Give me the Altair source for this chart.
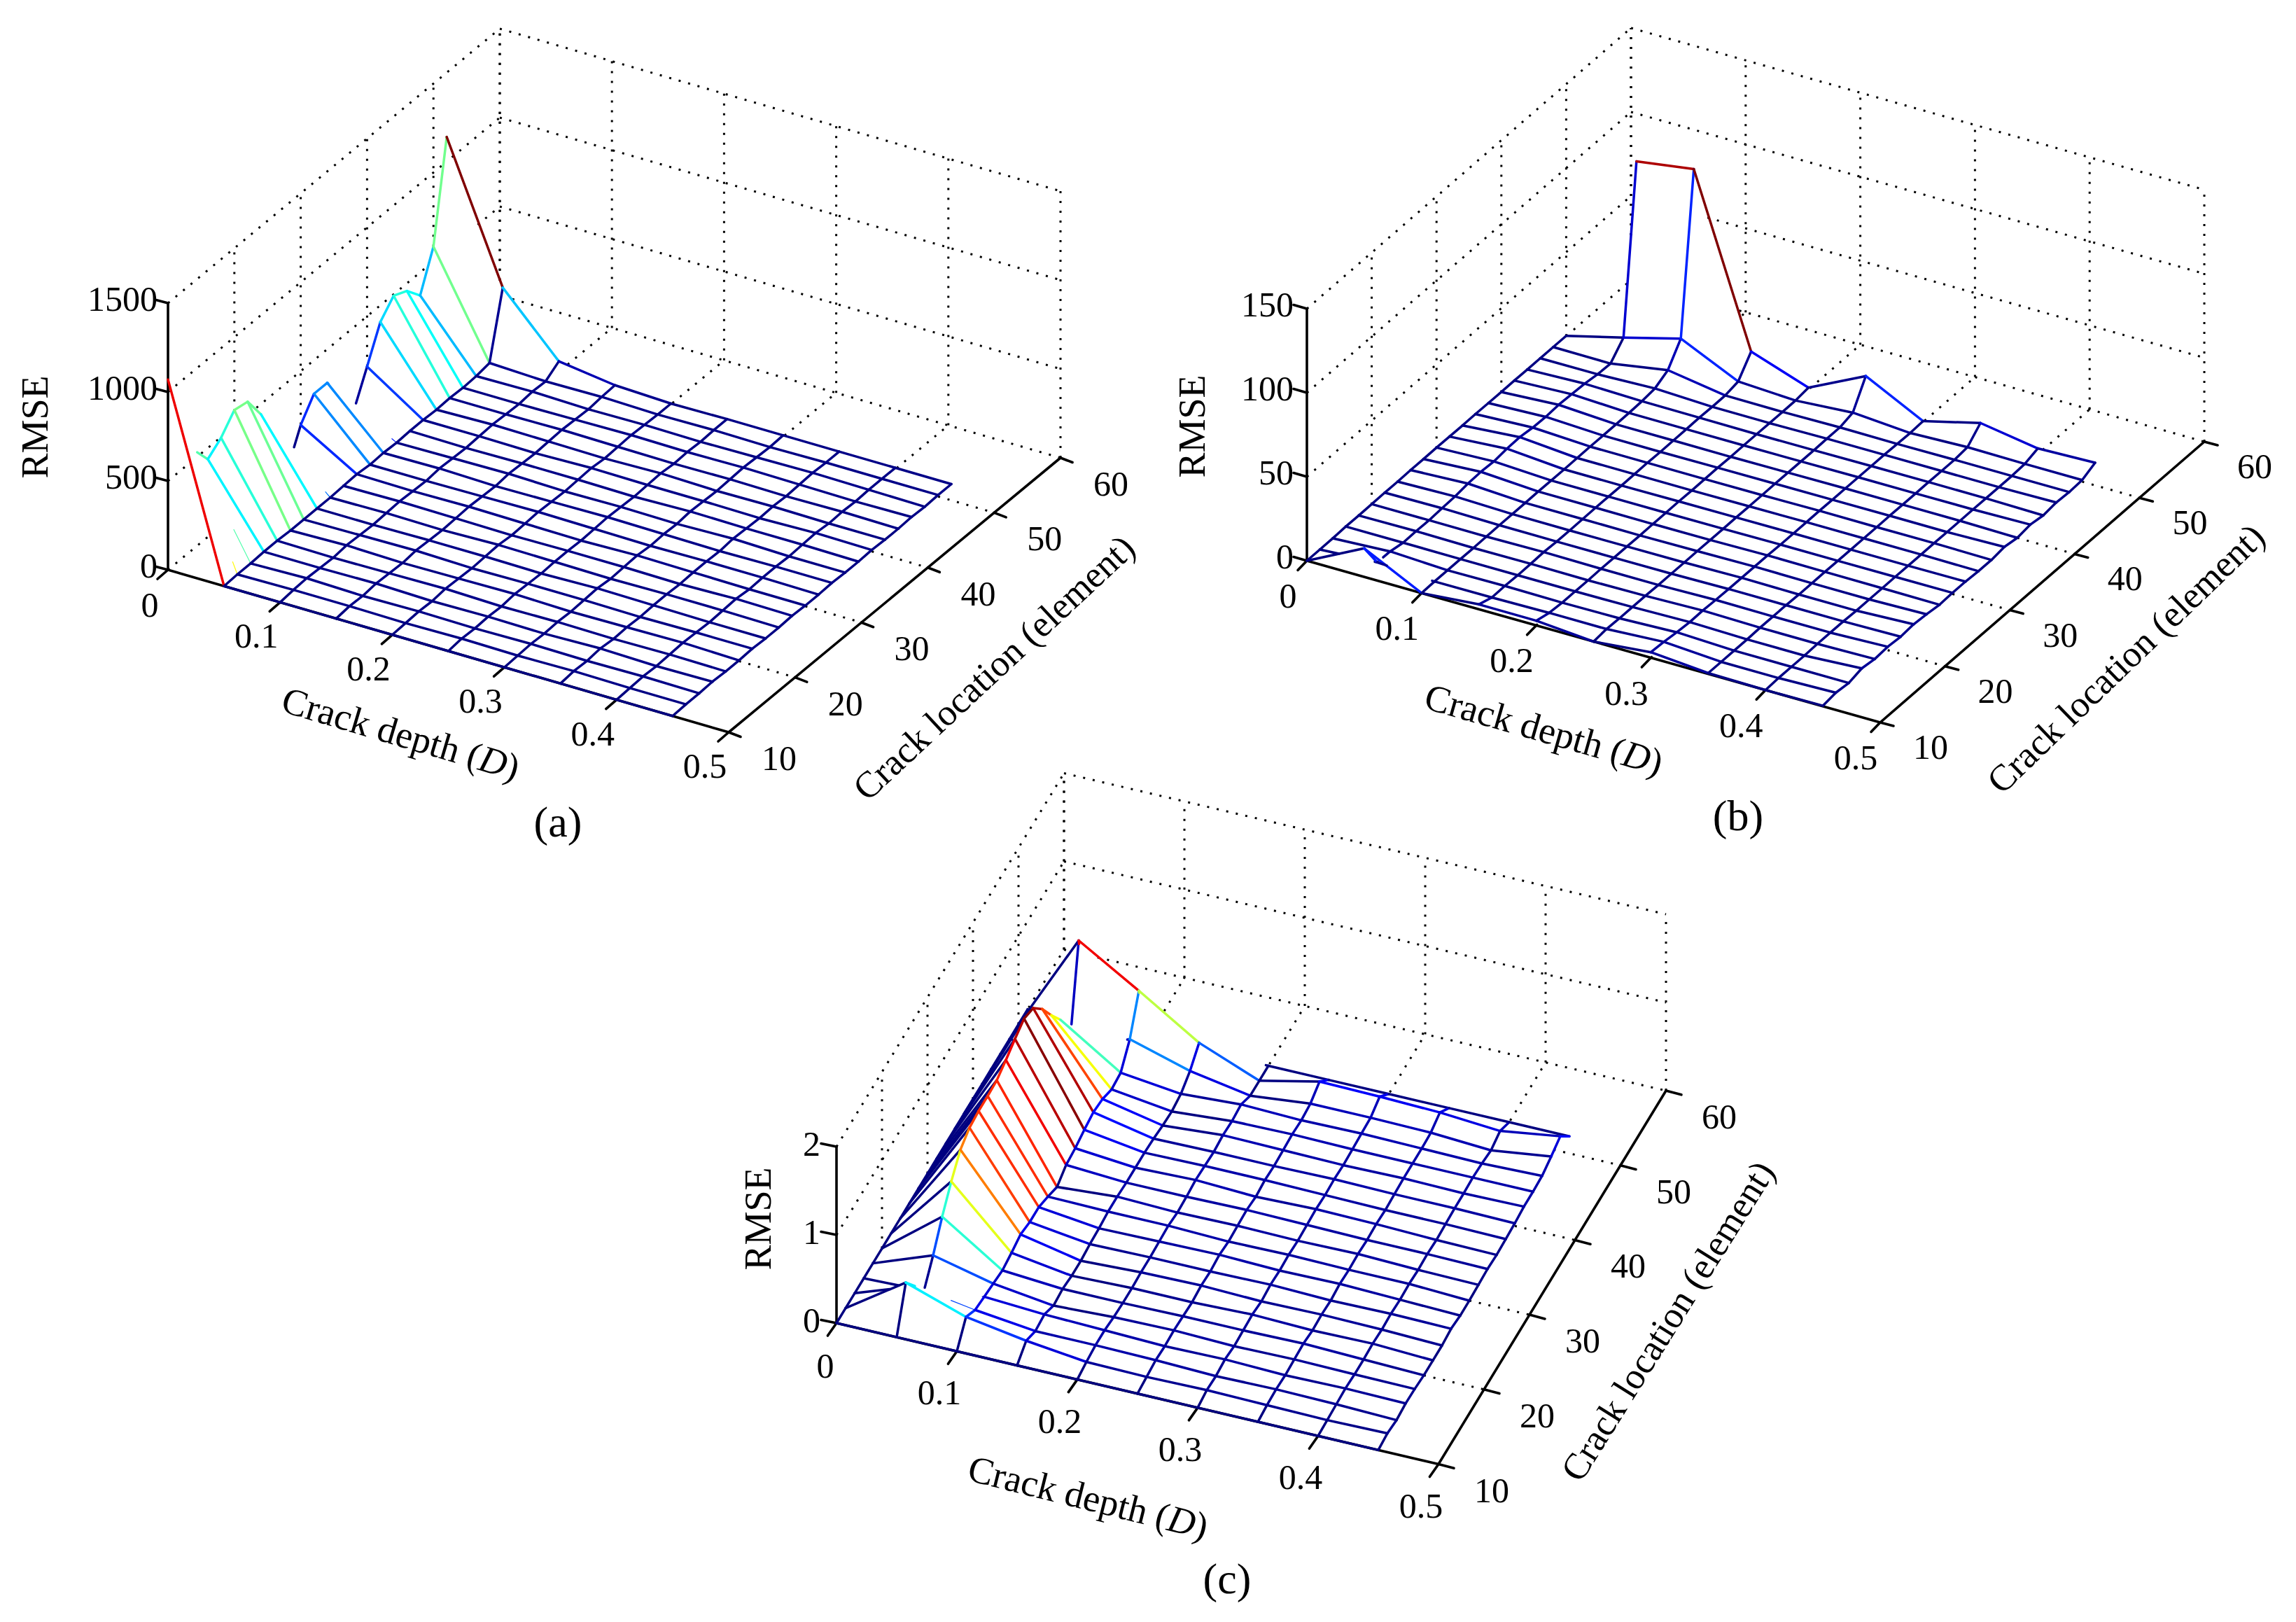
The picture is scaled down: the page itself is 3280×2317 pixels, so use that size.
import numpy as np
import pandas as pd
import altair as alt

DEPTHS = [0, .05, .1, .15, .2, .25, .3, .35, .4, .45]
LOCS = list(range(10, 54, 2))
DEPTH_TICKS = [0, .1, .2, .3, .4, .5]
LOC_TICKS = [10, 20, 30, 40, 50, 60]
Z_TICKS_A = [0, 500, 1000, 1500]
Z_TICKS_B = [0, 50, 100, 150]
Z_TICKS_C = [0, 1, 2]

# RMSE: one row per crack depth, one value per crack location
Z_A = [
 [1070,756,547,437,496,590,575,443,287,10,197,311,311,177,31,217,406,492,457,370,583,1138],
 [0,4,4,8,8,4,4,4,4,8,12,4,8,4,8,8,4,8,4,8,20,382],
 [0,8,12,8,4,12,8,4,8,12,8,4,12,8,4,8,12,8,4,12,8,59],
 [0,8,4,12,8,4,12,8,4,8,12,8,4,12,8,4,8,12,8,4,12,16],
 [0,4,8,4,12,8,4,8,12,4,8,12,8,4,8,12,4,8,12,8,4,4],
 [0,8,4,8,4,12,8,4,8,8,4,8,12,8,4,8,12,4,8,4,8,8],
 [0,4,8,4,8,4,8,12,4,8,12,4,8,4,12,8,4,8,12,8,4,8],
 [0,8,4,12,4,8,4,8,8,4,8,8,4,12,8,4,8,4,8,12,8,8],
 [0,4,8,4,8,12,8,4,8,12,4,8,8,4,8,12,4,8,4,8,8,8],
 [0,4,4,8,4,4,8,4,4,8,4,4,8,4,4,8,4,4,8,4,8,8],
]
Z_B = [
 [0,0,0,.3,.2,.3,.4,.3,.5,.4,.5,.4,.3,.4,.3,.2,.3,.2,.2,.2,.2,None],
 [17,2,1.8,.3,.5,.3,.8,1.1,2.1,2.4,1.9,2.8,3,2,1.7,2.2,1.8,1.4,.3,0,8.8,107],
 [0,.2,.2,.2,.1,.2,.3,.2,.2,.3,.2,.1,.2,.3,.2,.2,.3,.6,1.5,5.7,17.8,112],
 [2.9,.3,.5,.2,.3,.6,.2,.1,.2,.3,.2,.1,.2,.3,.1,.2,.2,.4,.2,.3,1.9,13],
 [2.8,.8,.2,.2,.1,.3,.2,.2,.1,.2,.2,.3,.1,.2,.3,.1,.2,.2,.1,.1,.2,1.2],
 [0,.8,.5,.5,.5,.3,.3,.3,.4,.3,.3,.4,.3,.3,.4,.3,.3,.3,.5,.5,2.6,17.7],
 [3.3,2.8,1.8,1.2,1.4,1,.8,.8,.8,.8,.5,.5,.5,.6,.5,.5,.5,.5,.5,.3,.1,.5],
 [.5,.5,.5,.5,.8,.8,.8,.5,.5,.6,.5,.5,.5,.5,.6,.5,.5,.6,.5,.5,1.3,9],
 [0,.5,.5,.5,.8,.8,.8,.5,.5,.5,.6,.5,.5,.6,.5,.5,.6,.5,.5,.5,1,3.5],
 [.3,1.4,.5,2.5,1.4,2,1.3,2,1.3,.3,.7,.7,.2,.2,1.3,0,1.2,0,1,.5,1,4.6],
]
Z_C = [
 [0,0,0,0,0,0,0,0,0,0,0,0,0,0,0,0,0,0,0,0,0,0],
 [0,.45,.24,.02,.25,.52,.75,.94,1.02,1.04,1.04,1.05,1.11,1.18,1.24,1.19,1.01,.77,.55,.08,1.11,0],
 [0,.22,.13,.11,.09,.07,.1,.14,.11,.11,.06,0,.08,.1,.14,.17,.15,.09,.11,.32,.7,0],
 [0,.11,.05,.07,0,.02,0,0,.02,.03,.05,.05,.04,.04,.04,.03,.01,0,.03,.12,.27,0],
 [0,.03,.05,.05,.03,.02,.02,.03,.03,.04,.05,.03,.04,.06,.05,.04,.06,.05,.07,0,0,0],
 [0,.02,.04,.03,.04,.03,.02,.04,.03,.05,.03,.04,.05,.03,.05,.04,.05,.06,.05,.07,.15,0],
 [0,.03,.02,.04,.02,.03,.04,.02,.04,.03,.04,.03,.04,.05,.04,.05,.04,.05,.06,.07,.14,0],
 [0,.02,.03,.02,.03,.04,.02,.03,.02,.04,.03,.04,.03,.04,.03,.04,.05,.05,.05,.06,.12,0],
 [0,.01,.02,.03,.02,.02,.03,.02,.03,.02,.03,.02,.03,.02,.03,.04,.04,.05,.04,.02,.07,0],
 [0,.02,0,.02,.015,0,0,0,.02,0,0,.01,.02,.01,.02,.03,.05,.05,.06,.11,.17,0],
]

# kind, depth index, location index: edges the reference does not draw, or draws thin or in part
HIDE_A = [('c',0,1),('c',0,7),('c',0,8),('r',0,9),('c',0,13),('r',0,14)]
THIN_A = [('c',0,0),('r',0,1),('r',0,13),('r',0,2),('r',0,8)]
PART_A = {('r',0,2):(.7,1.),('r',0,8):(.88,1.),('c',0,2):(.2,1.)}
HIDE_B, THIN_B, PART_B = [], [], {}
HIDE_C, THIN_C, PART_C = [], [('r',1,2),('r',1,3)], {('r',1,2):(.6,1.),('r',1,3):(.6,1.)}

PANELS = [
 dict(Z=Z_A, ticks=Z_TICKS_A, zmax=1500, o=(240,814), D=(801,232), L=(474,-392), H=381,
      tz=(-17,-4.5), td=(-15,13), tl=(17,6.5), hi=1200, fix={(0,21):1.},
      off_d=(-34,50), off_0=(-26,52), off_l=(72,39), off_z=(-15,-4),
      ylab=(52,610), dlab=(572,1050), da=16.5, llab=(1421,955), la=43, cap=("(a)",797,1176),
      hide=HIDE_A, thin=THIN_A, part=PART_A),
 dict(Z=Z_B, ticks=Z_TICKS_B, zmax=150, o=(1867,801), D=(819,231), L=(463,-401), H=360,
      tz=(-19,-5.4), td=(-13,13.4), tl=(19,5), hi=112, fix={},
      off_d=(-35,52), off_0=(-27,52), off_l=(72,37), off_z=(-19,-4.5),
      ylab=(1705,609), dlab=(2205,1044), da=16, llab=(3038,942), la=44, cap=("(b)",2483,1167),
      hide=HIDE_B, thin=THIN_B, part=PART_B),
 dict(Z=Z_C, ticks=Z_TICKS_C, zmax=2, o=(1195,1890), D=(860,201.5), L=(325,-533.5), H=252,
      tz=(-22,-4.5), td=(-12.6,18), tl=(22,5.8), hi=1.25, fix={},
      off_d=(-25,61), off_0=(-16,63), off_l=(76,39), off_z=(-23,-2),
      ylab=(1085,1741), dlab=(1554,2141), da=14, llab=(2384,1888), la=58, cap=("(c)",1753,2257),
      hide=HIDE_C, thin=THIN_C, part=PART_C),
]

mesh, grid, axes, ticktext, captions, ztext, ylabels, extras = [], [], [], [], [], [], [], []

def norm(p, d, l, z):
    return np.array([d/.5, (l-10)/50, z/p['zmax']], float)

def build(p):
    O = np.array(p['o'], float)
    M = np.array([p['D'], p['L'], (0, -p['H'])], float).T  # 2x3
    v = np.linalg.solve(M[:, :2], -M[:, 2])
    v = np.array([v[0], v[1], 1.])
    scr = lambda u: O + (M @ u.T).T
    verts = {}
    for i, d in enumerate(DEPTHS):
        for j, l in enumerate(LOCS):
            if p['Z'][i][j] is not None:
                verts[(i, j)] = norm(p, d, l, p['Z'][i][j])
    A, B, C = [], [], []
    for i in range(len(DEPTHS)-1):
        for j in range(len(LOCS)-1):
            ks = [(i,j),(i+1,j),(i+1,j+1),(i,j+1)]
            if not all(k in verts for k in ks):
                continue
            a,b,c,e = [verts[k] for k in ks]
            A += [a,a]; B += [b,c]; C += [c,e]
    A, B, C = np.array(A), np.array(B), np.array(C)
    Sa, Sb, Sc = scr(A), scr(B), scr(C)
    e0, e1 = Sb-Sa, Sc-Sa
    den = e0[:,0]*e1[:,1]-e1[:,0]*e0[:,1]
    good = np.abs(den) > 1e-6
    A,B,C,Sa,e0,e1,den = A[good],B[good],C[good],Sa[good],e0[good],e1[good],den[good]
    vv = v @ v

    def hidden(P, eps):
        S = scr(P)
        rx = S[:,0][:,None]-Sa[:,0]
        ry = S[:,1][:,None]-Sa[:,1]
        w1 = (rx*e1[:,1]-e1[:,0]*ry)/den
        w2 = (e0[:,0]*ry-rx*e0[:,1])/den
        ins = (w1 >= -1e-6) & (w2 >= -1e-6) & (w1+w2 <= 1+1e-6)
        Qm = A[None,:,:] + w1[:,:,None]*(B-A)[None,:,:] + w2[:,:,None]*(C-A)[None,:,:]
        t = ((Qm-P[:,None,:]) @ v)/vv
        return (ins & (t > eps)).any(axis=1)

    def runs(u0, u1, n, eps, t0=0., t1=1.):
        ts = np.linspace(t0, t1, n+1)
        mids = (ts[:-1]+ts[1:])/2
        P = u0[None,:]+mids[:,None]*(u1-u0)[None,:]
        h = hidden(P, eps)
        out, k = [], 0
        while k < n:
            if h[k]:
                k += 1; continue
            m = k
            while m+1 < n and not h[m+1]:
                m += 1
            a = scr((u0+ts[k]*(u1-u0))[None,:])[0]
            b = scr((u0+ts[m+1]*(u1-u0))[None,:])[0]
            out.append((a[0],a[1],b[0],b[1]))
            k = m+1
        return out

    def colour(i, j):
        if (i, j) in p['fix']:
            return p['fix'][(i, j)]
        return min(1., max(0., p['Z'][i][j]/p['hi']))

    # mesh edges: colour of the first vertex of each edge
    for i in range(len(DEPTHS)):
        for j in range(len(LOCS)):
            if (i,j) not in verts:
                continue
            for kind, nb in (('r',(i+1,j)),('c',(i,j+1))):
                if nb not in verts or (kind,i,j) in p['hide']:
                    continue
                t0,t1 = p['part'].get((kind,i,j),(0.,1.))
                w = 1.2 if (kind,i,j) in p['thin'] else 3.5
                for r in runs(verts[(i,j)], verts[nb], 24, .004, t0, t1):
                    mesh.append(dict(x=r[0],y=r[1],x2=r[2],y2=r[3],c=colour(i,j),w=w))

    # dotted box grid, hidden where the surface covers it
    def gridline(a, b):
        for r in runs(a, b, 90, -1e-4):
            grid.append(dict(x=r[0],y=r[1],x2=r[2],y2=r[3]))
    for d in DEPTH_TICKS:
        if d < .5:
            gridline(norm(p,d,10,0), norm(p,d,60,0))
        gridline(norm(p,d,60,0), norm(p,d,60,p['zmax']))
    for l in LOC_TICKS:
        if l > 10:
            gridline(norm(p,0,l,0), norm(p,.5,l,0))
            gridline(norm(p,0,l,0), norm(p,0,l,p['zmax']))
    for z in p['ticks']:
        if z > 0:
            gridline(norm(p,0,10,z), norm(p,0,60,z))
            gridline(norm(p,0,60,z), norm(p,.5,60,z))

    # axes, ticks, tick labels
    def ax(a, b):
        axes.append(dict(x=a[0],y=a[1],x2=b[0],y2=b[1]))
    pt = lambda d,l,z: scr(norm(p,d,l,z)[None,:])[0]
    ax(pt(0,10,0), pt(0,10,p['zmax']))
    ax(pt(0,10,0), pt(.5,10,0))
    ax(pt(.5,10,0), pt(.5,60,0))
    for d in DEPTH_TICKS:
        a = pt(d,10,0); ax(a, a+np.array(p['td']))
        o = p['off_0'] if d == 0 else p['off_d']
        ticktext.append(dict(x=a[0]+o[0],y=a[1]+o[1],t=f"{d:g}"))
    for l in LOC_TICKS:
        a = pt(.5,l,0); ax(a, a+np.array(p['tl']))
        ticktext.append(dict(x=a[0]+p['off_l'][0],y=a[1]+p['off_l'][1],t=str(l)))
    for z in p['ticks']:
        a = pt(0,10,z); ax(a, a+np.array(p['tz']))
        ztext.append(dict(x=a[0]+p['off_z'][0],y=a[1]+p['off_z'][1],t=f"{z:g}"))

    ylabels.append(dict(x=p['ylab'][0],y=p['ylab'][1],t="RMSE"))
    captions.append(dict(x=p['cap'][1],y=p['cap'][2],t=p['cap'][0]))

    # rotated titles
    fs = 54
    w1_, w2_, w3_ = 5.443*fs, .722*fs, .333*fs
    a = np.radians(p['da'])
    dirv = np.array([np.cos(a), np.sin(a)])
    st = np.array(p['dlab'],float)-dirv*(w1_+w2_+w3_)/2
    extras.append(dict(t="Crack depth (",pos=st,ang=p['da'],style='normal',fs=fs))
    extras.append(dict(t="D",pos=st+dirv*w1_,ang=p['da'],style='italic',fs=fs))
    extras.append(dict(t=")",pos=st+dirv*(w1_+w2_),ang=p['da'],style='normal',fs=fs))
    extras.append(dict(t="Crack location (element)",pos=np.array(p['llab'],float),ang=360-p['la'],style='center',fs=53))

for p in PANELS:
    build(p)

FONT = "Liberation Serif"
xs = alt.Scale(domain=[8, 3272], range=[0, 3264], nice=False, zero=False)
ys = alt.Scale(domain=[2309, 8], range=[2301, 0], nice=False, zero=False)
X = alt.X("x:Q", scale=xs, axis=None)
Y = alt.Y("y:Q", scale=ys, axis=None)

g_layer = alt.Chart(pd.DataFrame(grid)).mark_rule(color="black", strokeWidth=3, strokeDash=[3, 11]).encode(
    x=X, y=Y, x2="x2:Q", y2="y2:Q")
a_layer = alt.Chart(pd.DataFrame(axes)).mark_rule(color="black", strokeWidth=3.6, strokeCap="round").encode(
    x=X, y=Y, x2="x2:Q", y2="y2:Q")
m_layer = alt.Chart(pd.DataFrame(mesh)).mark_rule(strokeCap="round").encode(
    x=X, y=Y, x2="x2:Q", y2="y2:Q",
    color=alt.Color("c:Q", legend=None, scale=alt.Scale(
        domain=[0, .125, .375, .625, .875, 1],
        range=["#000080", "#0000ff", "#00ffff", "#ffff00", "#ff0000", "#800000"],
        interpolate="rgb")),
    strokeWidth=alt.StrokeWidth("w:Q", scale=None))
t_layer = alt.Chart(pd.DataFrame(ticktext)).mark_text(font=FONT, fontSize=50, color="black", align="center", baseline="middle").encode(
    x=X, y=Y, text="t:N")
z_layer = alt.Chart(pd.DataFrame(ztext)).mark_text(font=FONT, fontSize=50, color="black", align="right", baseline="middle").encode(
    x=X, y=Y, text="t:N")
c_layer = alt.Chart(pd.DataFrame(captions)).mark_text(font=FONT, fontSize=62, color="black", align="center", baseline="middle").encode(
    x=X, y=Y, text="t:N")
y_layer = alt.Chart(pd.DataFrame(ylabels)).mark_text(font=FONT, fontSize=54, color="black", align="center", baseline="middle", angle=270).encode(
    x=X, y=Y, text="t:N")
layers = [g_layer, a_layer, m_layer, t_layer, z_layer, c_layer, y_layer]
for e in extras:
    df = pd.DataFrame([dict(x=e['pos'][0], y=e['pos'][1], t=e['t'])])
    kw = dict(font=FONT, fontSize=e['fs'], color="black", baseline="middle", angle=e['ang'])
    kw['align'] = 'center' if e['style'] == 'center' else 'left'
    if e['style'] == 'italic':
        kw['fontStyle'] = 'italic'
    layers.append(alt.Chart(df).mark_text(**kw).encode(x=X, y=Y, text="t:N"))

chart = alt.layer(*layers).properties(width=3264, height=2301, padding=0, background="white",
    autosize=alt.AutoSizeParams(type="none")).configure_view(stroke=None)
chart.save("out.html", embed_options={"renderer": "svg", "actions": False})
